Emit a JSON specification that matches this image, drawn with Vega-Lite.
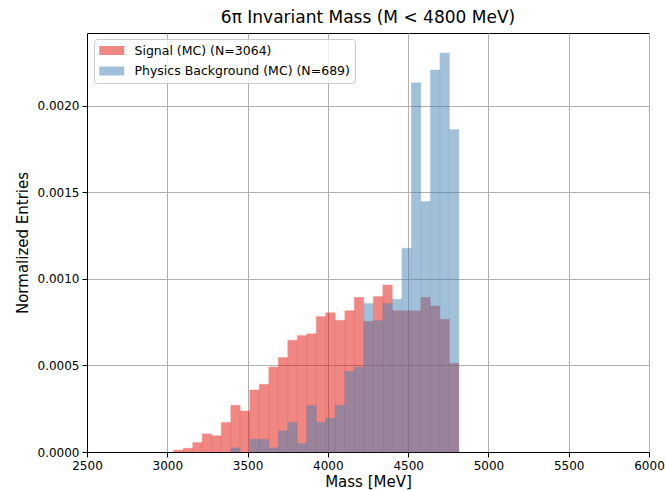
{
  "$schema": "https://vega.github.io/schema/vega-lite/v6.json",
  "width": 562,
  "height": 419,
  "autosize": {"type": "none"},
  "padding": {"left": 87, "top": 33, "right": 16, "bottom": 38},
  "background": "white",
  "title": {"text": "6π Invariant Mass (M < 4800 MeV)", "fontSize": 17, "font": "DejaVu Sans", "fontWeight": "normal", "color": "black", "offset": 6, "anchor": "middle"},
  "config": {
    "font": "DejaVu Sans",
    "view": {"stroke": "black", "strokeWidth": 1},
    "axis": {"labelFont": "DejaVu Sans", "titleFont": "DejaVu Sans", "labelColor": "black", "titleColor": "black", "titleFontWeight": "normal", "labelFontSize": 12, "titleFontSize": 15, "domainColor": "black", "tickColor": "black", "tickSize": 5, "gridColor": "#b0b0b0", "gridWidth": 1, "zindex": 1}
  },
  "data": {"values": [
    {"s": "Signal (MC) (N=3064)", "x0": 3040.0, "x1": 3099.2, "y": 0.0000110},
    {"s": "Signal (MC) (N=3064)", "x0": 3099.2, "x1": 3158.4, "y": 0.0000221},
    {"s": "Signal (MC) (N=3064)", "x0": 3158.4, "x1": 3217.6, "y": 0.0000551},
    {"s": "Signal (MC) (N=3064)", "x0": 3217.6, "x1": 3276.8, "y": 0.0001047},
    {"s": "Signal (MC) (N=3064)", "x0": 3276.8, "x1": 3336.0, "y": 0.0000937},
    {"s": "Signal (MC) (N=3064)", "x0": 3336.0, "x1": 3395.2, "y": 0.0001709},
    {"s": "Signal (MC) (N=3064)", "x0": 3395.2, "x1": 3454.4, "y": 0.0002701},
    {"s": "Signal (MC) (N=3064)", "x0": 3454.4, "x1": 3513.6, "y": 0.0002371},
    {"s": "Signal (MC) (N=3064)", "x0": 3513.6, "x1": 3572.8, "y": 0.0003583},
    {"s": "Signal (MC) (N=3064)", "x0": 3572.8, "x1": 3632.0, "y": 0.0003914},
    {"s": "Signal (MC) (N=3064)", "x0": 3632.0, "x1": 3691.2, "y": 0.0004907},
    {"s": "Signal (MC) (N=3064)", "x0": 3691.2, "x1": 3750.4, "y": 0.0005458},
    {"s": "Signal (MC) (N=3064)", "x0": 3750.4, "x1": 3809.6, "y": 0.0006450},
    {"s": "Signal (MC) (N=3064)", "x0": 3809.6, "x1": 3868.8, "y": 0.0006726},
    {"s": "Signal (MC) (N=3064)", "x0": 3868.8, "x1": 3928.0, "y": 0.0006836},
    {"s": "Signal (MC) (N=3064)", "x0": 3928.0, "x1": 3987.2, "y": 0.0007828},
    {"s": "Signal (MC) (N=3064)", "x0": 3987.2, "x1": 4046.4, "y": 0.0008049},
    {"s": "Signal (MC) (N=3064)", "x0": 4046.4, "x1": 4105.6, "y": 0.0007608},
    {"s": "Signal (MC) (N=3064)", "x0": 4105.6, "x1": 4164.8, "y": 0.0008159},
    {"s": "Signal (MC) (N=3064)", "x0": 4164.8, "x1": 4224.0, "y": 0.0008931},
    {"s": "Signal (MC) (N=3064)", "x0": 4224.0, "x1": 4283.2, "y": 0.0007553},
    {"s": "Signal (MC) (N=3064)", "x0": 4283.2, "x1": 4342.4, "y": 0.0008986},
    {"s": "Signal (MC) (N=3064)", "x0": 4342.4, "x1": 4401.6, "y": 0.0009648},
    {"s": "Signal (MC) (N=3064)", "x0": 4401.6, "x1": 4460.8, "y": 0.0008159},
    {"s": "Signal (MC) (N=3064)", "x0": 4460.8, "x1": 4520.0, "y": 0.0008159},
    {"s": "Signal (MC) (N=3064)", "x0": 4520.0, "x1": 4579.2, "y": 0.0008159},
    {"s": "Signal (MC) (N=3064)", "x0": 4579.2, "x1": 4638.4, "y": 0.0008931},
    {"s": "Signal (MC) (N=3064)", "x0": 4638.4, "x1": 4697.6, "y": 0.0008435},
    {"s": "Signal (MC) (N=3064)", "x0": 4697.6, "x1": 4756.8, "y": 0.0007663},
    {"s": "Signal (MC) (N=3064)", "x0": 4756.8, "x1": 4816.0, "y": 0.0005127},
    {"s": "Physics Background (MC) (N=689)", "x0": 3395.2, "x1": 3454.4, "y": 0.0000245},
    {"s": "Physics Background (MC) (N=689)", "x0": 3513.6, "x1": 3572.8, "y": 0.0000735},
    {"s": "Physics Background (MC) (N=689)", "x0": 3572.8, "x1": 3632.0, "y": 0.0000735},
    {"s": "Physics Background (MC) (N=689)", "x0": 3632.0, "x1": 3691.2, "y": 0.0000245},
    {"s": "Physics Background (MC) (N=689)", "x0": 3691.2, "x1": 3750.4, "y": 0.0001226},
    {"s": "Physics Background (MC) (N=689)", "x0": 3750.4, "x1": 3809.6, "y": 0.0001716},
    {"s": "Physics Background (MC) (N=689)", "x0": 3809.6, "x1": 3868.8, "y": 0.0000490},
    {"s": "Physics Background (MC) (N=689)", "x0": 3868.8, "x1": 3928.0, "y": 0.0002697},
    {"s": "Physics Background (MC) (N=689)", "x0": 3928.0, "x1": 3987.2, "y": 0.0001716},
    {"s": "Physics Background (MC) (N=689)", "x0": 3987.2, "x1": 4046.4, "y": 0.0001961},
    {"s": "Physics Background (MC) (N=689)", "x0": 4046.4, "x1": 4105.6, "y": 0.0002697},
    {"s": "Physics Background (MC) (N=689)", "x0": 4105.6, "x1": 4164.8, "y": 0.0004658},
    {"s": "Physics Background (MC) (N=689)", "x0": 4164.8, "x1": 4224.0, "y": 0.0004903},
    {"s": "Physics Background (MC) (N=689)", "x0": 4224.0, "x1": 4283.2, "y": 0.0008581},
    {"s": "Physics Background (MC) (N=689)", "x0": 4283.2, "x1": 4342.4, "y": 0.0007600},
    {"s": "Physics Background (MC) (N=689)", "x0": 4342.4, "x1": 4401.6, "y": 0.0008581},
    {"s": "Physics Background (MC) (N=689)", "x0": 4401.6, "x1": 4460.8, "y": 0.0008826},
    {"s": "Physics Background (MC) (N=689)", "x0": 4460.8, "x1": 4520.0, "y": 0.0011768},
    {"s": "Physics Background (MC) (N=689)", "x0": 4520.0, "x1": 4579.2, "y": 0.0021329},
    {"s": "Physics Background (MC) (N=689)", "x0": 4579.2, "x1": 4638.4, "y": 0.0014465},
    {"s": "Physics Background (MC) (N=689)", "x0": 4638.4, "x1": 4697.6, "y": 0.0022065},
    {"s": "Physics Background (MC) (N=689)", "x0": 4697.6, "x1": 4756.8, "y": 0.0023046},
    {"s": "Physics Background (MC) (N=689)", "x0": 4756.8, "x1": 4816.0, "y": 0.0018633}
  ]},
  "mark": {"type": "bar", "opacity": 0.5, "cornerRadius": 0, "strokeWidth": 0.35},
  "encoding": {
    "x": {"field": "x0", "type": "quantitative", "scale": {"domain": [2500, 6000], "nice": false, "zero": false},
      "axis": {"title": "Mass [MeV]", "values": [2500, 3000, 3500, 4000, 4500, 5000, 5500, 6000], "format": "d", "labelPadding": 3, "titlePadding": 3, "labelFlush": false}},
    "x2": {"field": "x1"},
    "y": {"field": "y", "type": "quantitative", "stack": null, "scale": {"domain": [0, 0.00242], "nice": false},
      "axis": {"title": "Normalized Entries", "values": [0, 0.0005, 0.001, 0.0015, 0.002], "format": ".4f", "labelPadding": 3, "titlePadding": 7}},
    "y2": {"datum": 0},
    "color": {"field": "s", "type": "nominal", "sort": null,
      "scale": {"domain": ["Signal (MC) (N=3064)", "Physics Background (MC) (N=689)"], "range": ["#E2110A", "#4682B4"]},
      "legend": {"title": null, "orient": "none", "legendX": 7, "legendY": 6, "padding": 5, "fillColor": "rgba(255,255,255,0.8)", "strokeColor": "#cccccc", "cornerRadius": 3, "labelFontSize": 12.5, "labelFont": "DejaVu Sans", "labelColor": "black", "symbolType": "M-1,-0.72H3V0.72H-1Z", "symbolSize": 156.25, "symbolOpacity": 0.5, "symbolStrokeWidth": 0, "labelOffset": 22.5, "rowPadding": 7.5, "zindex": 2, "labelLimit": 400}},
    "stroke": {"field": "s", "type": "nominal", "sort": null,
      "scale": {"domain": ["Signal (MC) (N=3064)", "Physics Background (MC) (N=689)"], "range": ["#E2110A", "#4682B4"]},
      "legend": null}
  }
}
